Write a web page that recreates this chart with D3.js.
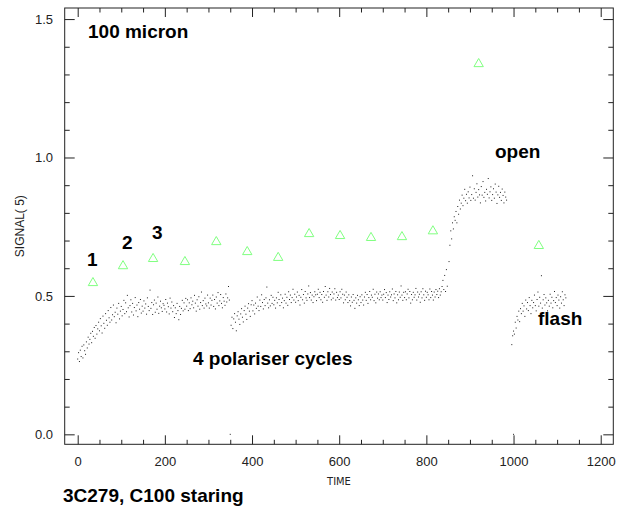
<!DOCTYPE html>
<html>
<head>
<meta charset="utf-8">
<script src="https://cdn.jsdelivr.net/npm/d3@7"></script>
<style>
  body { margin: 0; background: #fff; }
  svg { display: block; }
  .tick text { font-family: "Liberation Sans", Arial, sans-serif; font-size: 13px; fill: #222; }
  .tick line { stroke: #222; }
  .note { font-family: "Liberation Sans", Arial, sans-serif; font-weight: bold; font-size: 19px; fill: #000; }
</style>
</head>
<body>
<div class="container"></div>
<script>
// signal samples, one every 2 time units
const step = 2;

// first part: the 4 polariser cycles
const startA = 0;
const signalA = [
  0.272, 0.295, 0.263, 0.304, 0.281, 0.318, 0.276, 0.323, 0.302, 0.289, 0.334, 0.312, 0.351, 0.326, 0.343, 0.365, 0.331, 0.372, 0.354, 0.386, 0.347, 0.393, 0.362, 0.381, 0.405,
  0.374, 0.418, 0.392, 0.366, 0.427, 0.401, 0.383, 0.436, 0.412, 0.394, 0.447, 0.421, 0.405, 0.458, 0.413, 0.432, 0.467, 0.425, 0.441, 0.403, 0.456, 0.434, 0.473, 0.417, 0.445,
  0.462, 0.428, 0.451, 0.484, 0.436, 0.475, 0.443, 0.502, 0.457, 0.424, 0.465, 0.486, 0.442, 0.473, 0.431, 0.458, 0.494, 0.446, 0.467, 0.425, 0.476, 0.452, 0.487, 0.438, 0.463,
  0.445, 0.482, 0.456, 0.471, 0.434, 0.493, 0.462, 0.447, 0.521, 0.455, 0.476, 0.433, 0.468, 0.485, 0.441, 0.474, 0.452, 0.496, 0.437, 0.463, 0.481, 0.457, 0.444, 0.472, 0.466,
  0.453, 0.487, 0.442, 0.474, 0.461, 0.435, 0.492, 0.456, 0.478, 0.443, 0.465, 0.422, 0.457, 0.436, 0.473, 0.447, 0.414, 0.462, 0.433, 0.455, 0.484, 0.446, 0.475, 0.452, 0.491,
  0.463, 0.486, 0.447, 0.475, 0.454, 0.493, 0.468, 0.481, 0.457, 0.502, 0.474, 0.445, 0.486, 0.463, 0.497, 0.452, 0.476, 0.514, 0.465, 0.483, 0.456, 0.492, 0.471, 0.464, 0.503,
  0.475, 0.456, 0.492, 0.467, 0.484, 0.503, 0.462, 0.487, 0.453, 0.496, 0.474, 0.512, 0.465, 0.482, 0.505, 0.473, 0.457, 0.494, 0.481, 0.466, 0.507, 0.478, 0.493, 0.534, 0.485,
  0.000, 0.394, 0.423, 0.382, 0.417, 0.436, 0.405, 0.374, 0.428, 0.443, 0.416, 0.397, 0.435, 0.454, 0.423, 0.406, 0.447, 0.463, 0.434, 0.415, 0.456, 0.472, 0.445, 0.426, 0.468,
  0.483, 0.446, 0.467, 0.435, 0.474, 0.455, 0.496, 0.463, 0.447, 0.485, 0.462, 0.504, 0.476, 0.453, 0.487, 0.465, 0.493, 0.532, 0.474, 0.457, 0.486, 0.464, 0.502, 0.473, 0.495,
  0.468, 0.484, 0.456, 0.493, 0.475, 0.513, 0.487, 0.465, 0.504, 0.476, 0.492, 0.457, 0.483, 0.506, 0.474, 0.495, 0.466, 0.515, 0.487, 0.503, 0.476, 0.494, 0.524, 0.485, 0.506,
  0.477, 0.496, 0.514, 0.483, 0.502, 0.467, 0.495, 0.523, 0.486, 0.505, 0.474, 0.516, 0.493, 0.484, 0.507, 0.536, 0.494, 0.512, 0.485, 0.503, 0.476, 0.497, 0.515, 0.504, 0.483,
  0.506, 0.524, 0.494, 0.513, 0.486, 0.505, 0.477, 0.516, 0.495, 0.534, 0.503, 0.484, 0.515, 0.496, 0.527, 0.505, 0.486, 0.514, 0.492, 0.507, 0.526, 0.485, 0.513, 0.494, 0.503,
  0.487, 0.515, 0.493, 0.524, 0.506, 0.475, 0.503, 0.486, 0.514, 0.495, 0.476, 0.504, 0.483, 0.464, 0.496, 0.477, 0.505, 0.484, 0.455, 0.493, 0.474, 0.502, 0.486, 0.465, 0.497,
  0.476, 0.504, 0.485, 0.467, 0.496, 0.513, 0.484, 0.505, 0.473, 0.494, 0.516, 0.486, 0.503, 0.495, 0.524, 0.483, 0.506, 0.475, 0.514, 0.492, 0.507, 0.486, 0.515, 0.494, 0.503,
  0.485, 0.506, 0.523, 0.494, 0.512, 0.476, 0.503, 0.487, 0.515, 0.496, 0.504, 0.525, 0.483, 0.507, 0.493, 0.516, 0.475, 0.504, 0.486, 0.514, 0.495, 0.536, 0.503, 0.484, 0.513,
  0.494, 0.515, 0.486, 0.507, 0.524, 0.493, 0.516, 0.474, 0.505, 0.486, 0.513, 0.495, 0.504, 0.527, 0.485, 0.514, 0.496, 0.506, 0.477, 0.515, 0.493, 0.526, 0.504, 0.484, 0.517,
  0.495, 0.513, 0.504, 0.486, 0.525, 0.494, 0.516, 0.503, 0.485, 0.514, 0.496, 0.523, 0.505, 0.517, 0.494, 0.526, 0.503, 0.515, 0.534, 0.556, 0.523, 0.574, 0.516, 0.595, 0.535
];

// "open" part
const startB = 852;
const signalB = [
  0.624, 0.683, 0.735, 0.706, 0.764, 0.742, 0.786, 0.773, 0.805, 0.764, 0.823, 0.795, 0.846, 0.814, 0.835, 0.864, 0.826, 0.853, 0.885, 0.844, 0.867, 0.835, 0.876, 0.854, 0.893,
  0.845, 0.866, 0.934, 0.853, 0.887, 0.846, 0.874, 0.905, 0.857, 0.884, 0.865, 0.836, 0.895, 0.864, 0.913, 0.856, 0.874, 0.843, 0.885, 0.867, 0.924, 0.854, 0.876, 0.894, 0.845,
  0.866, 0.887, 0.853, 0.904, 0.875, 0.834, 0.865, 0.896, 0.856, 0.874, 0.845, 0.886, 0.863, 0.836, 0.875, 0.857, 0.846
];

// "flash" part
const startC = 996;
const signalC = [
  0.324, 0.356, 0.373, 0.362, 0.405, 0.384, 0.426, 0.413, 0.445, 0.407, 0.454, 0.436, 0.473, 0.445, 0.464, 0.426, 0.485, 0.453, 0.476, 0.447, 0.494, 0.465, 0.436, 0.484, 0.457,
  0.476, 0.503, 0.465, 0.446, 0.487, 0.514, 0.463, 0.495, 0.474, 0.573, 0.456, 0.486, 0.505, 0.467, 0.493, 0.475, 0.446, 0.484, 0.463, 0.506, 0.474, 0.495, 0.457, 0.483, 0.516,
  0.476, 0.494, 0.465, 0.503, 0.485, 0.456, 0.497, 0.474, 0.515, 0.486, 0.465, 0.504, 0.493
];

const extraTime = [1000];
const extraSignal = [0.0];

// green triangles (polariser steps)
const triTime = [35, 104, 173, 246, 318, 389, 460, 531, 602, 673, 744, 815, 920, 1058];
const triSignal = [0.547, 0.608, 0.634, 0.623, 0.695, 0.659, 0.638, 0.724, 0.717, 0.710, 0.713, 0.734, 1.338, 0.681];

const xMajor = [0, 200, 400, 600, 800, 1000, 1200];
const yMajor = [0.0, 0.5, 1.0, 1.5];

const svg = d3.select(".container").append("svg")
  .attr("width", 620)
  .attr("height", 515);

const x = d3.scaleLinear().domain([-29.8, 1228.9]).range([64.7, 613.3]);
const y = d3.scaleLinear().domain([-0.036, 1.54]).range([444.3, 8]);

const xMinor = d3.range(0, 1201, 50).filter((d) => d % 200 !== 0);
const yMinor = d3.range(0, 16).map((d) => d / 10).filter((d) => Math.round(d * 10) % 5 !== 0);

// bottom axis
svg.append("g")
  .attr("transform", "translate(0," + y.range()[0] + ")")
  .call(d3.axisBottom(x).tickValues(xMajor).tickSizeInner(-9).tickSizeOuter(0).tickPadding(12.5).tickFormat(d3.format("d")))
  .call((g) => g.select(".domain").remove());
svg.append("g")
  .attr("transform", "translate(0," + y.range()[0] + ")")
  .call(d3.axisBottom(x).tickValues(xMinor).tickSizeInner(-4.5).tickSizeOuter(0).tickFormat(""))
  .call((g) => g.select(".domain").remove());

// top axis
svg.append("g")
  .attr("transform", "translate(0," + y.range()[1] + ")")
  .call(d3.axisTop(x).tickValues(xMajor).tickSizeInner(-9).tickSizeOuter(0).tickFormat(""))
  .call((g) => g.select(".domain").remove());
svg.append("g")
  .attr("transform", "translate(0," + y.range()[1] + ")")
  .call(d3.axisTop(x).tickValues(xMinor).tickSizeInner(-4.5).tickSizeOuter(0).tickFormat(""))
  .call((g) => g.select(".domain").remove());

// left axis
svg.append("g")
  .attr("transform", "translate(" + x.range()[0] + ",0)")
  .call(d3.axisLeft(y).tickValues(yMajor).tickSizeInner(-10).tickSizeOuter(0).tickPadding(11.7).tickFormat(d3.format(".1f")))
  .call((g) => g.select(".domain").remove());
svg.append("g")
  .attr("transform", "translate(" + x.range()[0] + ",0)")
  .call(d3.axisLeft(y).tickValues(yMinor).tickSizeInner(-5).tickSizeOuter(0).tickFormat(""))
  .call((g) => g.select(".domain").remove());

// right axis
svg.append("g")
  .attr("transform", "translate(" + x.range()[1] + ",0)")
  .call(d3.axisRight(y).tickValues(yMajor).tickSizeInner(-10).tickSizeOuter(0).tickFormat(""))
  .call((g) => g.select(".domain").remove());
svg.append("g")
  .attr("transform", "translate(" + x.range()[1] + ",0)")
  .call(d3.axisRight(y).tickValues(yMinor).tickSizeInner(-5).tickSizeOuter(0).tickFormat(""))
  .call((g) => g.select(".domain").remove());

// frame
svg.append("rect")
  .attr("x", x.range()[0])
  .attr("y", y.range()[1])
  .attr("width", x.range()[1] - x.range()[0])
  .attr("height", y.range()[0] - y.range()[1])
  .attr("fill", "none")
  .attr("stroke", "#222")
  .attr("stroke-width", 1);

// axis titles
svg.append("text")
  .attr("x", (x.range()[0] + x.range()[1]) / 2)
  .attr("y", 485)
  .attr("text-anchor", "middle")
  .style("font-family", "'Liberation Sans Narrow', 'DejaVu Sans Condensed', sans-serif")
  .style("font-size", "11px")
  .style("fill", "#222")
  .text("TIME");

svg.append("text")
  .attr("transform", "translate(24," + (y.range()[0] + y.range()[1]) / 2 + ") rotate(-90)")
  .attr("text-anchor", "middle")
  .style("font-family", "'Liberation Sans', Arial, sans-serif")
  .style("font-size", "12px")
  .style("fill", "#222")
  .style("white-space", "pre")
  .text("SIGNAL(\u00a05)");

// signal dots
const points = []
  .concat(signalA.map((v, i) => ({ t: startA + i * step, v: v })))
  .concat(signalB.map((v, i) => ({ t: startB + i * step, v: v })))
  .concat(signalC.map((v, i) => ({ t: startC + i * step, v: v })))
  .concat(extraTime.map((t, i) => ({ t: t, v: extraSignal[i] })));

svg.append("g")
  .selectAll("rect")
  .data(points)
  .enter()
  .append("rect")
  .attr("x", (d) => x(d.t) - 0.5)
  .attr("y", (d) => y(d.v) - 0.5)
  .attr("width", 1)
  .attr("height", 1)
  .attr("fill", "#222");

// triangles
svg.append("g")
  .selectAll("path")
  .data(triTime)
  .enter()
  .append("path")
  .attr("d", d3.symbol().type(d3.symbolTriangle).size(38))
  .attr("transform", (d, i) => "translate(" + x(d) + "," + y(triSignal[i]) + ")")
  .attr("fill", "none")
  .attr("stroke", "#80ff80")
  .attr("stroke-width", 1);

// annotations
const notes = [
  { text: "100 micron", x: 88, y: 38 },
  { text: "1", x: 87, y: 266 },
  { text: "2", x: 122, y: 249 },
  { text: "3", x: 152, y: 239 },
  { text: "4 polariser cycles", x: 193, y: 365 },
  { text: "open", x: 495, y: 158 },
  { text: "flash", x: 538, y: 325 },
  { text: "3C279, C100 staring", x: 63, y: 502 }
];

svg.append("g")
  .selectAll("text")
  .data(notes)
  .enter()
  .append("text")
  .attr("class", "note")
  .attr("x", (d) => d.x)
  .attr("y", (d) => d.y)
  .text((d) => d.text);
</script>
</body>
</html>
